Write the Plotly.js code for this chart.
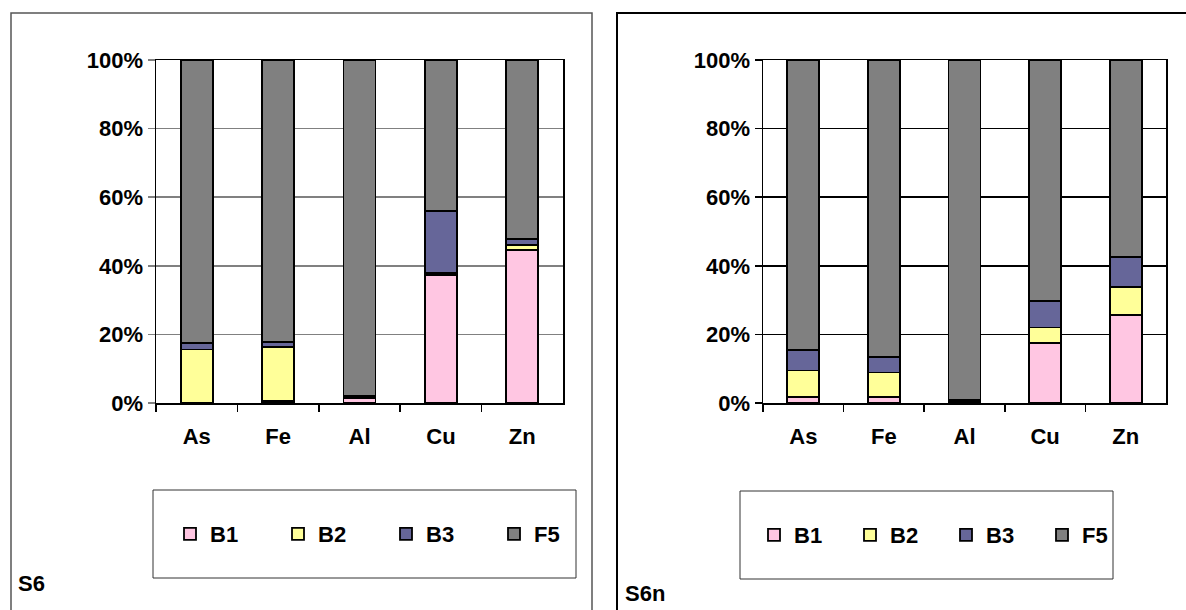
<!DOCTYPE html>
<html>
<head>
<meta charset="utf-8">
<script src="https://cdn.plot.ly/plotly-3.0.1.min.js"></script>
<style>html,body{margin:0;padding:0;background:#fff;}#chart{width:1186px;height:610px;}</style>
</head>
<body>
<div id="chart"></div>
<script>
// ---- data ----
const categories = ["As", "Fe", "Al", "Cu", "Zn"];
const seriesNames = ["B1", "B2", "B3", "F5"];
// S6 (left chart), percent shares
const s6_B1 = [0.0, 0.5, 1.3, 37.4, 44.5];
const s6_B2 = [15.6, 15.8, 0.2, 0.6, 1.6];
const s6_B3 = [1.8, 1.6, 0.6, 17.9, 1.7];
const s6_F5 = [82.6, 82.1, 97.9, 44.1, 52.2];
// S6n (right chart), percent shares
const s6n_B1 = [1.8, 1.8, 0.3, 17.6, 25.7];
const s6n_B2 = [7.7, 7.1, 0.2, 4.4, 8.2];
const s6n_B3 = [6.0, 4.5, 0.5, 7.7, 8.7];
const s6n_F5 = [84.5, 86.6, 99.0, 70.3, 57.4];
const yTicks = [0, 20, 40, 60, 80, 100];
const yTickLabels = ["0%", "20%", "40%", "60%", "80%", "100%"];
const panelLabels = ["S6", "S6n"];

// ---- styling ----
const colors = ["#FFC6E2", "#FFFF99", "#666699", "#808080"];
const W = 1186, H = 610;
const px = v => v / W;
const py = v => 1 - v / H;
const FONT = {family: "Liberation Sans, Arial, sans-serif", size: 22, color: "#000", weight: "bold"};

const s6 = [s6_B1, s6_B2, s6_B3, s6_F5];
const s6n = [s6n_B1, s6n_B2, s6n_B3, s6n_F5];

const traces = [];
seriesNames.forEach((name, i) => {
  traces.push({
    type: "bar", name: name, x: categories, y: s6[i],
    xaxis: "x", yaxis: "y", legend: "legend",
    marker: {color: colors[i], line: {color: "#000", width: 1.8}},
    hoverinfo: "x+y+name"
  });
});
seriesNames.forEach((name, i) => {
  traces.push({
    type: "bar", name: name, x: categories, y: s6n[i],
    xaxis: "x2", yaxis: "y2", legend: "legend2",
    marker: {color: colors[i], line: {color: "#000", width: 1.8}},
    hoverinfo: "x+y+name"
  });
});

function yax(gridColor, anchor) {
  return {
    domain: [py(403), py(60)], anchor: anchor, range: [0, 100],
    tickvals: yTicks, ticktext: yTickLabels, tickfont: FONT,
    showgrid: true, gridcolor: gridColor, gridwidth: 1.5,
    showline: true, linecolor: "#000", linewidth: 1.5, mirror: true,
    ticks: "outside", ticklen: 7, tickwidth: 1.5, tickcolor: gridColor,
    zeroline: false, fixedrange: true
  };
}
function xax(d, anchor) {
  return {
    domain: d, anchor: anchor, type: "category",
    tickfont: FONT, showline: true, linecolor: "#000", linewidth: 1.5, mirror: true,
    ticks: "outside", tickson: "boundaries", ticklen: 7, tickwidth: 1.5, tickcolor: "#000",
    ticklabelstandoff: 13, showgrid: false, fixedrange: true
  };
}

const layout = {
  width: W, height: H,
  margin: {l: 0, r: 0, t: 0, b: 0},
  paper_bgcolor: "#fff", plot_bgcolor: "#fff",
  barmode: "stack", bargap: 0.605,
  font: FONT,
  showlegend: true,
  xaxis: xax([px(156), px(563)], "y"),
  yaxis: yax("#808080", "x"),
  xaxis2: xax([px(763), px(1166)], "y2"),
  yaxis2: yax("#000", "x2"),
  legend: {
    orientation: "h", traceorder: "normal", x: px(170), y: py(534), xanchor: "left", yanchor: "middle",
    entrywidth: 63, entrywidthmode: "pixels", itemwidth: 30,
    bgcolor: "rgba(0,0,0,0)", borderwidth: 0, font: FONT, itemclick: false, itemdoubleclick: false
  },
  legend2: {
    orientation: "h", traceorder: "normal", x: px(754), y: py(535), xanchor: "left", yanchor: "middle",
    entrywidth: 51, entrywidthmode: "pixels", itemwidth: 30,
    bgcolor: "rgba(0,0,0,0)", borderwidth: 0, font: FONT, itemclick: false, itemdoubleclick: false
  },
  shapes: [
    {type: "rect", xref: "paper", yref: "paper", x0: px(11), x1: px(592), y0: py(620), y1: py(13),
     line: {color: "#555", width: 1.5}},
    {type: "rect", xref: "paper", yref: "paper", x0: px(617), x1: px(1195), y0: py(620), y1: py(13),
     line: {color: "#000", width: 2}},
    {type: "rect", xref: "paper", yref: "paper", x0: px(153), x1: px(576), y0: py(578), y1: py(490),
     line: {color: "#333", width: 1}},
    {type: "rect", xref: "paper", yref: "paper", x0: px(740), x1: px(1113), y0: py(579), y1: py(491),
     line: {color: "#333", width: 1}}
  ],
  annotations: [
    {text: panelLabels[0], xref: "paper", yref: "paper", x: px(16), y: py(583), xanchor: "left", yanchor: "middle",
     showarrow: false, font: FONT},
    {text: panelLabels[1], xref: "paper", yref: "paper", x: px(623), y: py(593), xanchor: "left", yanchor: "middle",
     showarrow: false, font: FONT}
  ]
};

Plotly.newPlot("chart", traces, layout, {displayModeBar: false, staticPlot: true});
</script>
</body>
</html>
